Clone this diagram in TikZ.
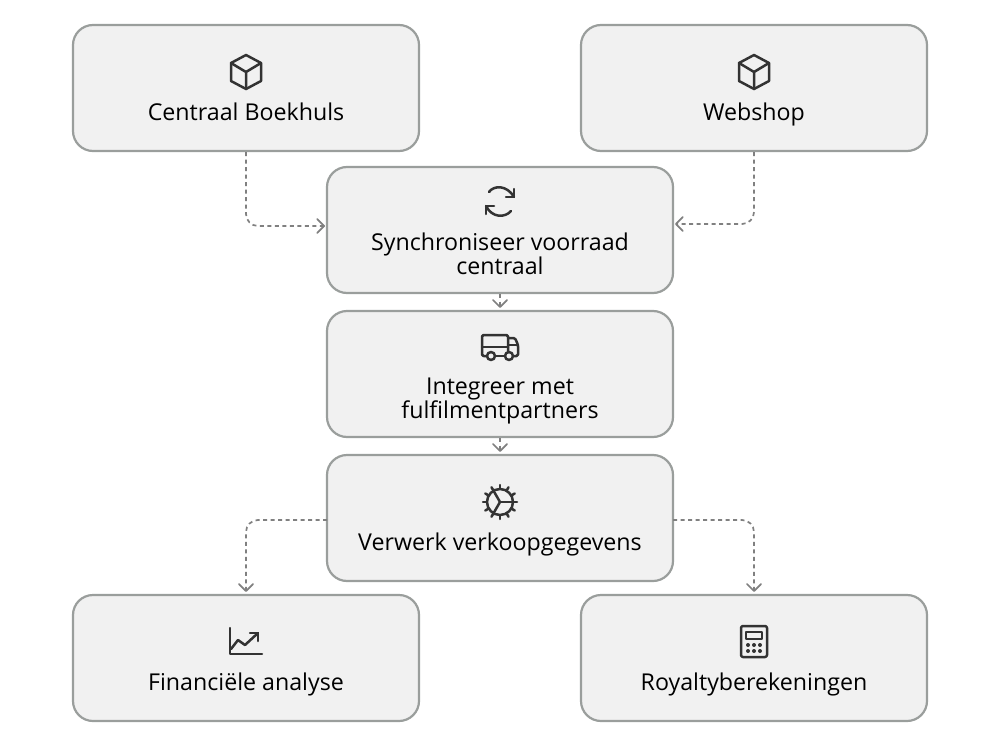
\documentclass[tikz,border=0pt]{standalone}
\usepackage{fontspec}
\setmainfont{Open Sans}
\usetikzlibrary{arrows.meta}

\definecolor{boxline}{HTML}{9A9E9C}
\definecolor{boxfill}{HTML}{F1F1F1}
\definecolor{iconcol}{HTML}{333333}

\tikzset{
    icon/.style={draw=iconcol, line width=2.5pt, line join=round, line cap=round},
    cube/.pic={
        \draw[icon] (0,-17) -- (15,-9) -- (15,9) -- (0,17) -- (-15,9) -- (-15,-9) -- cycle;
        \draw[icon] (-15,-9) -- (0,0) -- (15,-9) (0,0) -- (0,17);
    },
    syncicon/.pic={
        \draw[icon] (-11,-10) .. controls (-6,-17) and (7,-17) .. (14,-5);
        \draw[icon] (14,-13) -- (14,-5) -- (6,-5);
        \draw[icon] (11,9) .. controls (5,16) and (-8,16) .. (-14,4);
        \draw[icon] (-14,12) -- (-14,4) -- (-6,4);
    },
    truck/.pic={
        \draw[icon, rounded corners=1.5pt] (-13,9) -- (-18,9) -- (-18,-12) -- (8,-12) -- (8,9);
        \draw[icon] (-18,0) -- (8,0);
        \draw[icon, rounded corners=1.5pt] (8,-9) -- (15,-9) -- (18,-2) -- (18,9) -- (13,9);
        \draw[icon] (8,-2) -- (18,-2);
        \draw[icon] (-5,9) -- (5,9);
        \draw[icon, fill=boxfill] (-9,9) circle (4);
        \draw[icon, fill=boxfill] (9,9) circle (4);
    },
    gear/.pic={
        \draw[icon] (0,0) circle (13);
        \foreach \a in {0,30,...,330}
            \draw[icon] (\a:13) -- (\a:17);
        \foreach \a in {0,120,240}
            \draw[icon] (0,0) -- (\a:13);
    },
    chart/.pic={
        \draw[icon] (0,-13) -- (0,13) -- (32,13);
        \draw[icon] (1,8) -- (8,-1) -- (15,4) -- (28,-8);
        \draw[icon] (20,-8) -- (28,-8) -- (28,0);
    },
    calc/.pic={
        \draw[icon, rounded corners=2pt] (-13,-15.5) rectangle (13,15.5);
        \draw[icon] (-8,-9.5) rectangle (8,-2.5);
        \foreach \x in {-6,0,6}
            \foreach \y in {3.5,9.5}
                \fill[iconcol] (\x,\y) circle (2);
    }
}

\begin{document}
\begin{tikzpicture}[
    x=1pt, y=-1pt,
    box/.style={draw=boxline, fill=boxfill, line width=2.2pt, rounded corners=20pt, minimum width=346pt, minimum height=126pt, inner sep=0pt},
    boxlabel/.style={anchor=base, align=center, inner sep=0pt, text=black, font=\fontsize{23.2}{24}\selectfont},
    flow/.style={draw=gray, line width=1.7pt, dash pattern=on 4pt off 3.5pt, rounded corners=12pt, shorten >=2pt, -{Straight Barb[length=7pt, width=14pt, round]}}
]
\useasboundingbox (0,0) rectangle (1000,746);

% Boxes
\node[box] (boekhuis) at (246,88) {};
\node[box] (webshop) at (754,88) {};
\node[box] (sync) at (500,230) {};
\node[box] (fulfil) at (500,374) {};
\node[box] (verwerk) at (500,518) {};
\node[box] (analyse) at (246,658) {};
\node[box] (royalty) at (754,658) {};

% Free ends of the bent connectors
\coordinate (syncL) at (327,226);
\coordinate (syncR) at (673,224);
\coordinate (verwerkL) at (327,520);
\coordinate (verwerkR) at (673,520);

% Icons
\pic at (246,72) {cube};
\pic at (754,72) {cube};
\pic at (500,202) {syncicon};
\pic at (500,347) {truck};
\pic at (500,502) {gear};
\pic at (230,641) {chart};
\pic at (754,641.5) {calc};

% Labels
\node[boxlabel] (boekhuisText) at (246,121) {Centraal Boekhuls};
\node[boxlabel] (webshopText) at (754,121) {Webshop};
\node[boxlabel] (syncText) at (500,274) {Synchroniseer voorraad\\centraal};
\node[boxlabel] (fulfilText) at (500,418) {Integreer met\\fulfilmentpartners};
\node[boxlabel] (verwerkText) at (500,550) {Verwerk verkoopgegevens};
\node[boxlabel] (analyseText) at (246,690) {Financiële analyse};
\node[boxlabel] (royaltyText) at (754,690) {Royaltyberekeningen};

% Connectors
\draw[flow] (boekhuis.south) |- (syncL);
\draw[flow] (webshop.south) |- (syncR);
\draw[flow] (sync.south) -- (fulfil.north);
\draw[flow] (fulfil.south) -- (verwerk.north);
\draw[flow] (verwerkL) -| (analyse.north);
\draw[flow] (verwerkR) -| (royalty.north);

\end{tikzpicture}
\end{document}
